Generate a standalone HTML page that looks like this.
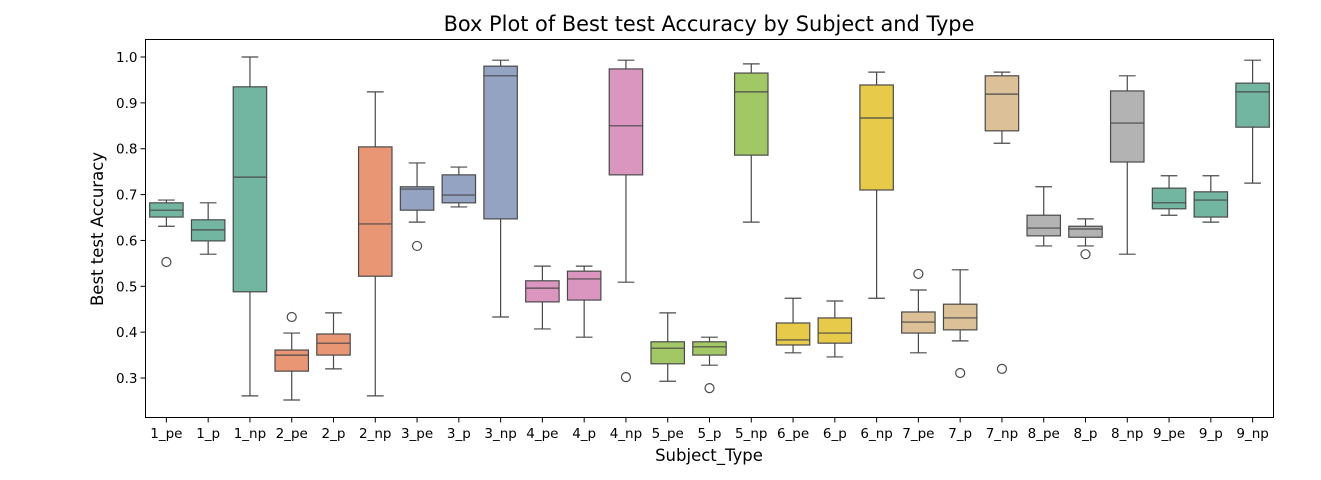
<!DOCTYPE html>
<html><head><meta charset="utf-8"><style>
body{margin:0;background:#fff;}
svg{display:block;font-family:"DejaVu Sans","Liberation Sans",sans-serif;}
</style></head><body>
<svg id="chart" width="1321" height="480">
<text x="709" y="31" font-size="20.9" text-anchor="middle" fill="#000">Box Plot of Best test Accuracy by Subject and Type</text>
<text x="709" y="461" font-size="16.5" text-anchor="middle" fill="#000">Subject_Type</text>
<text transform="translate(103,229) rotate(-90)" font-size="16.5" text-anchor="middle" fill="#000">Best test Accuracy</text>
<g id="ticks"></g><g id="boxes"></g>
<rect x="145.5" y="39.5" width="1128" height="378" fill="none" stroke="#000" stroke-width="1"/>
</svg>
<script>
const categories=["1_pe","1_p","1_np","2_pe","2_p","2_np","3_pe","3_p","3_np","4_pe","4_p","4_np","5_pe","5_p","5_np","6_pe","6_p","6_np","7_pe","7_p","7_np","8_pe","8_p","8_np","9_pe","9_p","9_np"];
const whiskerLow=[0.631,0.570,0.261,0.252,0.320,0.261,0.640,0.673,0.433,0.407,0.389,0.509,0.293,0.328,0.640,0.355,0.346,0.474,0.355,0.381,0.812,0.588,0.588,0.570,0.655,0.640,0.725];
const q1=[0.651,0.599,0.488,0.315,0.350,0.522,0.666,0.682,0.647,0.466,0.470,0.743,0.331,0.350,0.786,0.372,0.376,0.710,0.398,0.405,0.839,0.610,0.607,0.771,0.669,0.651,0.847];
const medians=[0.666,0.623,0.738,0.350,0.376,0.636,0.712,0.699,0.959,0.496,0.516,0.850,0.365,0.368,0.924,0.383,0.398,0.867,0.422,0.431,0.919,0.627,0.625,0.856,0.682,0.688,0.924];
const q3=[0.682,0.645,0.935,0.361,0.396,0.804,0.717,0.743,0.980,0.512,0.533,0.974,0.379,0.379,0.965,0.420,0.431,0.939,0.444,0.461,0.959,0.655,0.631,0.926,0.714,0.706,0.943];
const whiskerHigh=[0.688,0.682,1.0,0.398,0.442,0.924,0.769,0.760,0.993,0.544,0.544,0.993,0.442,0.389,0.985,0.474,0.468,0.967,0.492,0.536,0.967,0.717,0.647,0.959,0.741,0.741,0.993];
const outliers=[[0.553],[],[],[0.433],[],[],[0.588],[],[],[],[],[0.302],[],[0.278],[],[],[],[],[0.527],[0.311],[0.320],[],[0.570],[],[],[],[]];
const yTicks=[0.3,0.4,0.5,0.6,0.7,0.8,0.9,1.0];
const palette=["#72b6a1","#e99675","#95a3c3","#db96c0","#a2c865","#e7ca4a","#dcc198","#b3b3b3","#72b6a1"];
const X0=145.5,W=1128,Y=v=>57-(v-1.0)*458.6;
const step=W/categories.length,cx=i=>X0+step*(i+0.5);
const NS="http://www.w3.org/2000/svg";
function mk(t,a,p){const e=document.createElementNS(NS,t);for(const k in a)e.setAttribute(k,a[k]);p.appendChild(e);return e;}
const tg=document.getElementById("ticks"),bg=document.getElementById("boxes");
yTicks.forEach(t=>{const y=Y(t);
 const l=mk("line",{x1:X0-5,x2:X0,y1:y,y2:y,stroke:"#000"},tg);
 
 
 const tx=mk("text",{x:X0-8,y:y+5,"font-size":13.5,"text-anchor":"end"},tg);tx.textContent=t.toFixed(1);
 
 });
categories.forEach((c,i)=>{const x=cx(i),hw=step*0.4,col=palette[Math.floor(i/3)];
 const l=mk("line",{x1:x,x2:x,y1:417.5,y2:422.5,stroke:"#000"},tg);
 
 
 const tx=mk("text",{x:x,y:438,"font-size":13.5,"text-anchor":"middle"},tg);tx.textContent=c;
 
 
 const g=mk("g",{stroke:"#4a4a4a","stroke-width":1.2,fill:"none"},bg);
 
 
 mk("line",{x1:x,x2:x,y1:Y(whiskerHigh[i]),y2:Y(q3[i])},g);
 mk("line",{x1:x,x2:x,y1:Y(q1[i]),y2:Y(whiskerLow[i])},g);
 mk("line",{x1:x-hw/2,x2:x+hw/2,y1:Y(whiskerHigh[i]),y2:Y(whiskerHigh[i])},g);
 mk("line",{x1:x-hw/2,x2:x+hw/2,y1:Y(whiskerLow[i]),y2:Y(whiskerLow[i])},g);
 mk("rect",{x:x-hw,y:Y(q3[i]),width:2*hw,height:Y(q1[i])-Y(q3[i]),fill:col},g);
 mk("line",{x1:x-hw,x2:x+hw,y1:Y(medians[i]),y2:Y(medians[i])},g);
 outliers[i].forEach(o=>{mk("circle",{cx:x,cy:Y(o),r:4.5},g);});
});
</script>
</body></html>
